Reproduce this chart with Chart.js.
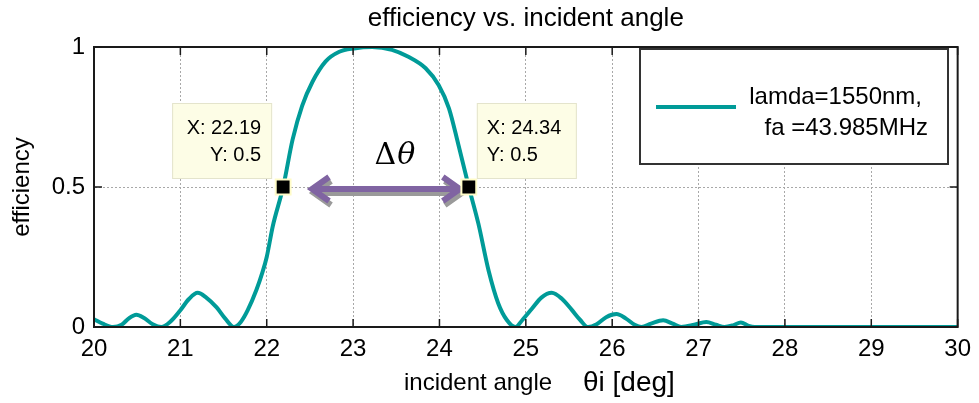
<!DOCTYPE html>
<html>
<head>
<meta charset="utf-8">
<script src="https://cdn.jsdelivr.net/npm/chart.js@4.4.1/dist/chart.umd.min.js"></script>
<style>
    body { margin: 0; background: #fff; }
    canvas { display: block; }
</style>
</head>
<body>
<canvas id="effChart" width="979" height="403"></canvas>
<script>
// данные
const angle = [
    20.00, 20.10, 20.22, 20.32, 20.40, 20.49, 20.58, 20.68, 20.78, 20.88,
    21.00, 21.10, 21.20, 21.30, 21.42, 21.52, 21.62, 21.70, 21.78, 21.88,
    21.95, 22.00, 22.07, 22.19, 22.30, 22.41, 22.53, 22.68, 22.84, 23.01,
    23.22, 23.45, 23.64, 23.84, 23.99, 24.11, 24.22, 24.34, 24.45, 24.57,
    24.68, 24.78, 24.88, 24.96, 25.07, 25.18, 25.30, 25.42, 25.53, 25.63,
    25.72, 25.82, 25.93, 26.05, 26.16, 26.26, 26.34, 26.45, 26.59, 26.70,
    26.80, 26.95, 27.09, 27.20, 27.30, 27.40, 27.49, 27.58, 27.65, 28.00,
    29.00, 30.00
];
const efficiency = [
    0.028, 0.012, 0.000, 0.008, 0.030, 0.044, 0.032, 0.010, 0.000, 0.018,
    0.060, 0.100, 0.122, 0.105, 0.070, 0.030, 0.000, 0.018, 0.060, 0.132,
    0.195, 0.250, 0.360, 0.500, 0.670, 0.790, 0.876, 0.948, 0.983, 0.995,
    1.000, 0.990, 0.965, 0.924, 0.864, 0.781, 0.650, 0.500, 0.370, 0.200,
    0.085, 0.025, 0.000, 0.025, 0.065, 0.105, 0.122, 0.100, 0.062, 0.025,
    0.000, 0.010, 0.035, 0.046, 0.030, 0.008, 0.000, 0.012, 0.024, 0.012,
    0.000, 0.008, 0.018, 0.008, 0.000, 0.006, 0.016, 0.004, 0.000, 0.000,
    0.000, 0.000
];
const tipAngle = [22.19, 24.34];
const tipValue = [0.5, 0.5];
const xTicks = [20, 21, 22, 23, 24, 25, 26, 27, 28, 29, 30];
const yTicks = [0, 0.5, 1];

const TEAL = '#009b98';
const FONT = "'Liberation Sans', Arial, sans-serif";

document.addEventListener('DOMContentLoaded', function () {
    initializeChart();
});

// рамка, засечки, подсказки, стрелка, легенда
const matlabDecor = {
    id: 'matlabDecor',
    beforeDatasetsDraw(chart) {
        const ctx = chart.ctx;
        const x = chart.scales.x, y = chart.scales.y;
        const yMid = y.getPixelForValue(0.493);
        const x1 = x.getPixelForValue(22.49);
        const x2 = x.getPixelForValue(24.27);
        const drawArrow = (dx, dy, color) => {
            ctx.save();
            ctx.strokeStyle = color;
            ctx.lineWidth = 6;
            ctx.lineJoin = 'miter';
            ctx.beginPath();
            ctx.moveTo(x1 + 4 + dx, yMid + dy);
            ctx.lineTo(x2 - 4 + dx, yMid + dy);
            ctx.moveTo(x1 + 20 + dx, yMid - 12 + dy);
            ctx.lineTo(x1 + 3 + dx, yMid + dy);
            ctx.lineTo(x1 + 20 + dx, yMid + 12 + dy);
            ctx.moveTo(x2 - 20 + dx, yMid - 12 + dy);
            ctx.lineTo(x2 - 3 + dx, yMid + dy);
            ctx.lineTo(x2 - 20 + dx, yMid + 12 + dy);
            ctx.stroke();
            ctx.restore();
        };
        drawArrow(2, 4, '#9a9a9a');
        drawArrow(0, 0, '#8064a2');

        // Δθ
        ctx.save();
        ctx.fillStyle = '#000';
        ctx.textBaseline = 'middle';
        ctx.font = "30px 'DejaVu Serif', 'Liberation Serif', serif";
        const tx = x.getPixelForValue(23.5);
        ctx.textAlign = 'right';
        ctx.fillText('Δ', tx, 156);
        ctx.textAlign = 'left';
        ctx.font = "italic 30px 'DejaVu Serif', 'Liberation Serif', serif";
        ctx.fillText('θ', tx + 1, 156);
        ctx.restore();
    },
    afterDatasetsDraw(chart) {
        const ctx = chart.ctx;
        const area = chart.chartArea;
        const x = chart.scales.x, y = chart.scales.y;
        ctx.save();

        // рамка
        ctx.strokeStyle = '#1a1a1a';
        ctx.lineWidth = 2;
        ctx.strokeRect(area.left, area.top, area.right - area.left, area.bottom - area.top);

        // засечки внутрь
        ctx.lineWidth = 1.5;
        ctx.beginPath();
        xTicks.forEach(v => {
            const px = x.getPixelForValue(v);
            ctx.moveTo(px, area.bottom); ctx.lineTo(px, area.bottom - 8);
            ctx.moveTo(px, area.top); ctx.lineTo(px, area.top + 8);
        });
        yTicks.forEach(v => {
            const py = y.getPixelForValue(v);
            ctx.moveTo(area.left, py); ctx.lineTo(area.left + 8, py);
            ctx.moveTo(area.right, py); ctx.lineTo(area.right - 8, py);
        });
        ctx.stroke();

        // подсказки данных
        tipAngle.forEach((a, i) => {
            const px = x.getPixelForValue(a);
            const py = y.getPixelForValue(tipValue[i]);
            const w = 100, h = 76;
            const bx = i === 0 ? px - 11 - w : px + 8;
            const by = py - 8 - h;
            ctx.fillStyle = '#fdfde6';
            ctx.fillRect(bx, by, w, h);
            ctx.strokeStyle = '#e4e4cc';
            ctx.lineWidth = 1;
            ctx.strokeRect(bx + 0.5, by + 0.5, w - 1, h - 1);
            ctx.fillStyle = '#000';
            ctx.font = '20px ' + FONT;
            ctx.textBaseline = 'middle';
            ctx.textAlign = i === 0 ? 'right' : 'left';
            const tx = i === 0 ? bx + w - 11 : bx + 10;
            ctx.fillText('X: ' + a.toFixed(2), tx, by + 25);
            ctx.fillText('Y: ' + tipValue[i], tx, by + 52);
        });

        // легенда
        ctx.fillStyle = '#fff';
        ctx.fillRect(640, 49, 308, 115);
        ctx.strokeStyle = '#333';
        ctx.lineWidth = 2;
        ctx.strokeRect(640, 49, 308, 115);
        ctx.strokeStyle = TEAL;
        ctx.lineWidth = 4;
        ctx.beginPath();
        ctx.moveTo(656, 107);
        ctx.lineTo(736, 107);
        ctx.stroke();
        ctx.fillStyle = '#000';
        ctx.font = '24px ' + FONT;
        ctx.textBaseline = 'middle';
        ctx.textAlign = 'right';
        ctx.fillText('lamda=1550nm,', 922, 97);
        ctx.fillText('fa =43.985MHz', 928, 128);

        // заголовок по центру области графика
        ctx.textAlign = 'center';
        ctx.font = '26px ' + FONT;
        ctx.fillText('efficiency vs. incident angle', (area.left + area.right) / 2, 19);

        // подписи осей
        ctx.save();
        ctx.translate(22, (area.top + area.bottom) / 2);
        ctx.rotate(-Math.PI / 2);
        ctx.textAlign = 'center';
        ctx.font = '24px ' + FONT;
        ctx.fillText('efficiency', 0, 0);
        ctx.restore();

        ctx.textAlign = 'left';
        ctx.font = '24px ' + FONT;
        ctx.fillText('incident angle', 404, 383);
        ctx.font = '28px ' + FONT;
        ctx.fillText('θi [deg]', 583, 383);

        ctx.restore();
    }
};

function initializeChart() {
    const ctx = document.getElementById('effChart');
    new Chart(ctx, {
        type: 'scatter',
        data: {
            datasets: [{
                label: 'tips',
                data: tipAngle.map((a, i) => ({ x: a, y: tipValue[i] })),
                pointStyle: 'rect',
                pointRadius: 10.5,
                backgroundColor: '#000',
                borderColor: '#fffcc8',
                borderWidth: 2,
                showLine: false,
                order: 0
            }, {
                label: 'lamda=1550nm, fa =43.985MHz',
                data: angle.map((a, i) => ({ x: a, y: efficiency[i] })),
                showLine: true,
                borderColor: TEAL,
                borderWidth: 4,
                pointRadius: 0,
                cubicInterpolationMode: 'monotone',
                order: 1
            }]
        },
        options: {
            responsive: false,
            animation: false,
            devicePixelRatio: 1,
            layout: { padding: { left: 0, right: 18, top: 47, bottom: 0 } },
            plugins: {
                legend: { display: false },
                tooltip: { enabled: false },
                title: { display: false }
            },
            scales: {
                x: {
                    type: 'linear',
                    min: 20,
                    max: 30,
                    afterFit: s => { s.height = 76; },
                    afterBuildTicks: s => { s.ticks = xTicks.map(v => ({ value: v })); },
                    ticks: { color: '#000', padding: 8, font: { family: FONT, size: 24 } },
                    grid: { color: '#a8a8a8', lineWidth: 1, drawTicks: false },
                    border: { display: true, color: '#1a1a1a', width: 2, dash: [2, 2] }
                },
                y: {
                    min: 0,
                    max: 1,
                    afterFit: s => { s.width = 94; },
                    afterBuildTicks: s => { s.ticks = yTicks.map(v => ({ value: v })); },
                    ticks: {
                        color: '#000',
                        padding: 9,
                        font: { family: FONT, size: 24 },
                        callback: v => String(v)
                    },
                    grid: { color: '#a8a8a8', lineWidth: 1, drawTicks: false },
                    border: { display: true, color: '#1a1a1a', width: 2, dash: [2, 2] }
                }
            }
        },
        plugins: [matlabDecor]
    });
}
</script>
</body>
</html>
